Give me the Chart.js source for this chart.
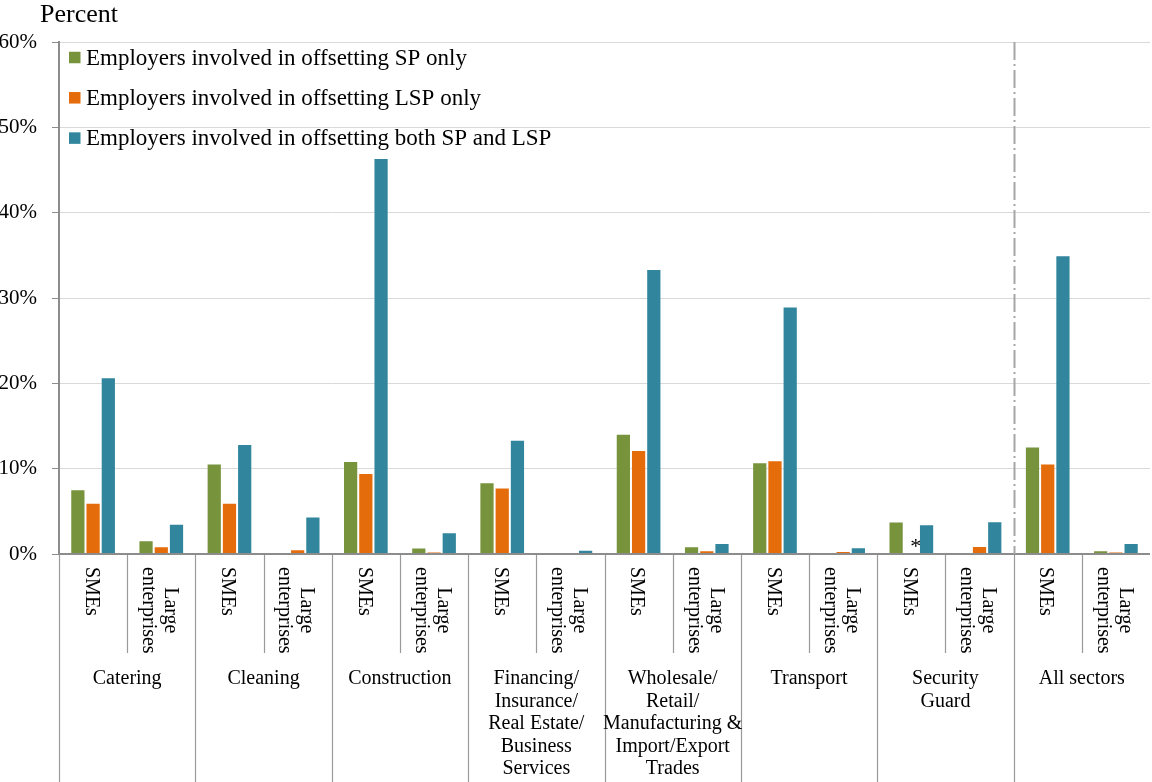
<!DOCTYPE html>
<html>
<head>
<meta charset="utf-8">
<script src="https://cdn.jsdelivr.net/npm/chart.js@4.4.1/dist/chart.umd.min.js"></script>
<style>
  html, body { margin: 0; padding: 0; background: #ffffff; }
  #wrap { width: 1152px; height: 782px; position: relative; }
</style>
</head>
<body>
<div id="wrap"><canvas id="chart"></canvas></div>
<script>
// Sectors (outer category level) and enterprise size (inner level)
const sectors = [
  ["Catering"],
  ["Cleaning"],
  ["Construction"],
  ["Financing/", "Insurance/", "Real Estate/", "Business", "Services"],
  ["Wholesale/", "Retail/", "Manufacturing &", "Import/Export", "Trades"],
  ["Transport"],
  ["Security", "Guard"],
  ["All sectors"]
];
const sizeGroups = [["SMEs"], ["Large", "enterprises"]];

// Share of employers (%) per sector / size, in order SMEs, Large enterprises
const spOnly    = [7.6, 1.6, 10.6, 0.2, 10.9, 0.75, 8.4, 0.0, 14.1, 0.9, 10.75, 0.05, 3.8, 0.1, 12.6, 0.45];
const lspOnly   = [6.0, 0.9, 6.0, 0.55, 9.5, 0.3, 7.8, 0.05, 12.2, 0.45, 11.0, 0.35, 0.0, 0.95, 10.6, 0.3];
const bothSpLsp = [20.7, 3.55, 12.9, 4.4, 46.4, 2.55, 13.4, 0.5, 33.4, 1.3, 29.0, 0.8, 3.5, 3.85, 35.0, 1.3];

// Value not shown (marked with an asterisk): [category index, series index]
const starredCells = [[12, 1]];

const seriesNames = [
  "Employers involved in offsetting SP only",
  "Employers involved in offsetting LSP only",
  "Employers involved in offsetting both SP and LSP"
];
const seriesColors = ["#77933C", "#E46C0A", "#31859C"];

const yMin = 0, yMax = 60, yStep = 10;
const yAxisTitle = "Percent";

// Build the flat category list (sector x size)
const categoryLabels = [];
sectors.forEach(s => sizeGroups.forEach(g => categoryLabels.push(s.join(" ") + " - " + g.join(" "))));

const SERIF = "'Liberation Serif', 'Times New Roman', serif";
const AXIS_GRAY = "#8c8c8c";

const multiLevelAxis = {
  id: "multiLevelAxis",
  afterDraw(chart) {
    const ctx = chart.ctx;
    const xs = chart.scales.x;
    const area = chart.chartArea;
    const n = categoryLabels.length;
    const cw = (area.right - area.left) / n;
    const bottom = area.bottom;
    const H = chart.height;

    ctx.save();

    // category separators
    ctx.strokeStyle = "#9a9a9a";
    ctx.lineWidth = 1.2;
    for (let i = 0; i < n; i++) {
      const x = Math.round(xs.getPixelForValue(i) - cw / 2) + 0.5;
      const isGroupEdge = i % sizeGroups.length === 0;
      ctx.beginPath();
      ctx.moveTo(x, bottom);
      ctx.lineTo(x, isGroupEdge ? H : bottom + 99);
      ctx.stroke();
    }

    // horizontal axis line
    ctx.strokeStyle = AXIS_GRAY;
    ctx.lineWidth = 2;
    ctx.beginPath();
    ctx.moveTo(area.left, bottom);
    ctx.lineTo(area.right, bottom);
    ctx.stroke();

    // inner labels (rotated)
    ctx.fillStyle = "#000";
    ctx.font = "20px " + SERIF;
    const lh = 22;
    for (let i = 0; i < n; i++) {
      const lines = sizeGroups[i % sizeGroups.length];
      const cx = xs.getPixelForValue(i);
      const w = Math.max(...lines.map(l => ctx.measureText(l).width));
      ctx.save();
      ctx.translate(cx - 1, bottom + 13);
      ctx.rotate(Math.PI / 2);
      ctx.textAlign = "center";
      ctx.textBaseline = "middle";
      lines.forEach((l, k) => {
        ctx.fillText(l, w / 2, (k - (lines.length - 1) / 2) * lh + 1);
      });
      ctx.restore();
    }

    // outer labels (sectors)
    ctx.textAlign = "center";
    ctx.textBaseline = "alphabetic";
    sectors.forEach((lines, s) => {
      const i0 = s * sizeGroups.length;
      const cx = (xs.getPixelForValue(i0) + xs.getPixelForValue(i0 + sizeGroups.length - 1)) / 2;
      lines.forEach((l, k) => ctx.fillText(l, cx, bottom + 130 + k * 22.6));
    });

    // dash-dot divider before "All sectors"
    const dividerIndex = (sectors.length - 1) * sizeGroups.length;
    const dx = Math.round(xs.getPixelForValue(dividerIndex) - cw / 2) + 0.5;
    ctx.strokeStyle = "#a6a6a6";
    ctx.lineWidth = 2;
    ctx.setLineDash([18, 4, 2, 4]);
    ctx.beginPath();
    ctx.moveTo(dx, area.top);
    ctx.lineTo(dx, bottom);
    ctx.stroke();
    ctx.setLineDash([]);

    // asterisks for unshown values
    ctx.font = "22px " + SERIF;
    ctx.textAlign = "center";
    ctx.textBaseline = "alphabetic";
    starredCells.forEach(([idx, ds]) => {
      const bar = chart.getDatasetMeta(ds).data[idx];
      ctx.fillText("*", bar.x + 4.5, bottom - 1);
    });

    // legend inside plot
    ctx.font = "23px " + SERIF;
    ctx.textAlign = "left";
    ctx.textBaseline = "middle";
    chart.data.datasets.forEach((d, k) => {
      const cy = area.top + 15.5 + k * 40.3;
      ctx.fillStyle = d.backgroundColor;
      ctx.fillRect(area.left + 10, cy - 5.75, 11.5, 11.5);
      ctx.fillStyle = "#000";
      ctx.fillText(d.label, area.left + 27, cy + 1);
    });

    // axis title
    ctx.font = "26px " + SERIF;
    ctx.textBaseline = "alphabetic";
    ctx.fillText(yAxisTitle, 40, 21.5);

    ctx.restore();
  }
};

new Chart(document.getElementById("chart"), {
  type: "bar",
  data: {
    labels: categoryLabels,
    datasets: [spOnly, lspOnly, bothSpLsp].map((vals, k) => ({
      label: seriesNames[k],
      data: vals,
      backgroundColor: seriesColors[k],
      borderColor: "rgba(255,255,255,0.2)",
      borderWidth: 1,
      borderSkipped: "bottom",
      categoryPercentage: 0.67,
      barPercentage: 1.0
    }))
  },
  options: {
    responsive: true,
    maintainAspectRatio: false,
    animation: false,
    devicePixelRatio: 1,
    layout: { padding: { top: 42, right: 2, left: 0, bottom: 0 } },
    plugins: {
      legend: { display: false },
      tooltip: { enabled: false }
    },
    scales: {
      x: {
        type: "category",
        offset: true,
        grid: { display: false },
        border: { display: false },
        ticks: { display: false },
        afterFit: s => { s.height = 228; }
      },
      y: {
        min: yMin,
        max: yMax,
        ticks: {
          stepSize: yStep,
          callback: v => v + "%",
          color: "#000",
          font: { family: SERIF, size: 21 },
          padding: 15
        },
        grid: { color: "#d9d9d9", lineWidth: 1, tickColor: AXIS_GRAY, tickLength: 7 },
        border: { display: true, color: AXIS_GRAY, width: 2 },
        afterFit: s => { s.width = 59; }
      }
    }
  },
  plugins: [multiLevelAxis]
});
</script>
</body>
</html>
